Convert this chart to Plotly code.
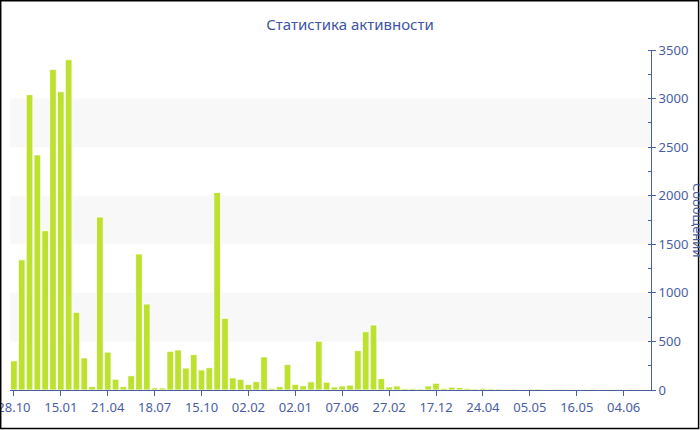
import plotly.graph_objects as go

# Data
messages = [300, 1340, 3040, 2420, 1640, 3300, 3070, 3400, 800, 330,
            35, 1780, 390, 110, 35, 147, 1400, 885, 21, 21,
            398, 412, 226, 364, 206, 230, 2033, 738, 124, 110,
            58, 86, 340, 17, 34, 262, 58, 43, 84, 502,
            80, 31, 41, 50, 405, 600, 669, 117, 31, 41,
            14, 14, 11, 41, 69, 17, 29, 25, 17, 10,
            17, 12, 10, 8, 9, 7, 8, 10, 7, 8,
            9, 8, 7, 8, 9, 7, 8, 8, 7, 9,
            8, 7]
positions = list(range(len(messages)))
tick_positions = [0, 6, 12, 18, 24, 30, 36, 42, 48, 54, 60, 66, 72, 78]
tick_labels = ["28.10", "15.01", "21.04", "18.07", "15.10", "02.02", "02.01",
               "07.06", "27.02", "17.12", "24.04", "05.05", "16.05", "04.06"]
bands = [(500, 1000), (1500, 2000), (2500, 3000)]

W, H = 700, 430
L, R, T, B = 10, 49, 50, 40
pw, ph = W - L - R, H - T - B

def px_x(p):
    return (p - L) / pw

def px_y(p):
    return (H - B - p) / ph

axis_color = "#4a5ea3"
font = "Noto Sans"

fig = go.Figure()
fig.add_trace(go.Bar(
    x=positions, y=messages,
    marker=dict(color="#bce12f", line=dict(color="rgba(255,255,255,0.8)", width=1)),
    hoverinfo="y",
))

shapes = []
for lo, hi in bands:
    shapes.append(dict(type="rect", xref="paper", yref="y", x0=0, x1=1, y0=lo, y1=hi,
                       fillcolor="#f8f8f8", line=dict(width=0), layer="below"))
shapes.append(dict(type="rect", xref="paper", yref="paper",
                   x0=px_x(0.7), x1=px_x(698.6), y0=px_y(0.7), y1=px_y(428.6),
                   line=dict(color="black", width=1.5), fillcolor="rgba(0,0,0,0)"))

fig.update_layout(
    width=W, height=H,
    margin=dict(l=L, r=R, t=T, b=B, autoexpand=False),
    paper_bgcolor="white", plot_bgcolor="white",
    showlegend=False,
    bargap=0.15,
    shapes=shapes,
    title=dict(text="Статистика активности", x=0.5, xanchor="center",
               y=1 - 25 / H, yanchor="middle", yref="container",
               font=dict(family=font, size=15, color="#3d55a3")),
    xaxis=dict(range=[-0.5, len(messages) - 0.5], tickmode="array",
               tickvals=tick_positions, ticktext=tick_labels, automargin=False,
               ticklabeloverflow="allow",
               showgrid=False, zeroline=False, showline=True, linecolor=axis_color,
               linewidth=1, ticks="outside", ticklen=5, tickcolor=axis_color,
               tickfont=dict(family=font, size=13, color=axis_color)),
    yaxis=dict(side="right", range=[0, 3500], dtick=500, tick0=0, automargin=False,
               ticklabeloverflow="allow",
               showgrid=False, zeroline=False, showline=True, linecolor=axis_color,
               linewidth=1, ticks="outside", ticklen=4, tickcolor=axis_color,
               minor=dict(dtick=250, ticks="inside", ticklen=3, tickcolor=axis_color),
               tickfont=dict(family=font, size=13, color=axis_color)),
    annotations=[dict(text="Сообщений", xref="paper", yref="paper",
                      x=px_x(698), y=px_y(220), xanchor="center", yanchor="middle",
                      textangle=90, showarrow=False,
                      font=dict(family=font, size=13, color=axis_color))],
)

fig.write_html("out.html", config={"displayModeBar": False},
               post_script="document.body.style.margin='0';document.body.style.overflow='hidden';")
